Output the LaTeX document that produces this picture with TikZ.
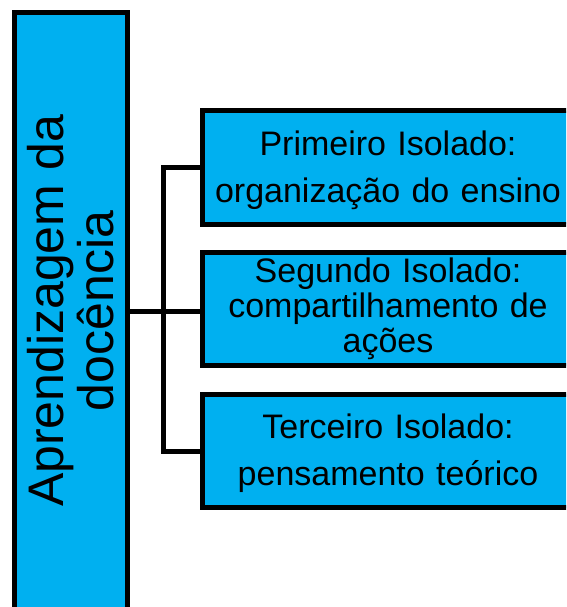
\documentclass[tikz,border=0pt]{standalone}
\usepackage{fontspec}
\setmainfont{Liberation Sans}
\definecolor{boxblue}{HTML}{00B0F0}
\newcommand{\topstrut}{\rule{0pt}{29.5pt}}
\begin{document}
\begin{tikzpicture}[x=1pt,y=-1pt,
  box/.style={draw=black, line width=5pt, fill=boxblue, minimum width=371pt,
    minimum height=113.5pt, inner sep=0pt, align=center, text width=371pt},
  wide/.style={font=\fontsize{34}{47}\selectfont},
  tight/.style={font=\fontsize{34}{35}\selectfont},
  conn/.style={draw=black, line width=5pt}]
\useasboundingbox (0,0) rectangle (566,607);
\clip (0,0) rectangle (566,607);
\node[draw=black, line width=5pt, fill=boxblue, rotate=90, minimum width=597pt,
  minimum height=113pt, inner sep=0pt, align=center,
  font=\fontsize{50}{50}\selectfont] (main) at (71,311)
  {Aprendizagem da\\docência};
\node[box, wide] (b1) at (388,167.5) {\topstrut Primeiro Isolado:\\organização do ensino};
\node[box, tight] (b2) at (388,309) {Segundo Isolado:\\compartilhamento de\\ações};
\node[box, wide] (b3) at (388,451) {\topstrut Terceiro Isolado:\\pensamento teórico};
\draw[conn] (main.south) -- (main.south -| b2.west);
\draw[conn] (b1.west) -- ++(-37,0) |- (b3.west);
\end{tikzpicture}
\end{document}
